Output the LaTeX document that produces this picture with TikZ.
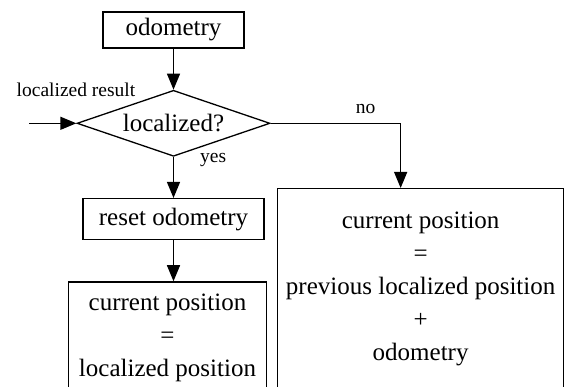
\documentclass[tikz,border=0pt]{standalone}
\usepackage{fontspec}
\setmainfont{Liberation Serif}
\usetikzlibrary{arrows.meta,shapes.geometric,positioning}

\begin{document}
\begin{tikzpicture}[x=1pt,y=1pt,>={Triangle[length=16pt,width=13pt]},line width=1.3pt,
    node distance=41pt,
    block/.style={draw,rectangle,align=center,inner sep=0pt,font=\fontsize{25}{33}\selectfont},
    decision/.style={draw,diamond,aspect=2.9,inner sep=0pt,minimum width=193pt,minimum height=66pt,font=\fontsize{25}{33}\selectfont},
    lbl/.style={font=\fontsize{19.5}{22}\selectfont,inner sep=2pt}]
      \useasboundingbox (0,0) rectangle (565,-387);
      \clip (0,0) rectangle (565,-387);

      %% main branch
      \node[block, minimum width=141pt, minimum height=36pt] (odo) at (173.5,-30) {odometry};
      \node[decision]                                        (loc) [below=of odo] {localized?};
      \node[block, minimum width=181pt, minimum height=41pt] (rst) [below=of loc] {reset odometry};
      \node[block, minimum width=198pt, inner ysep=12.5pt]   (cur1) [below=of rst, xshift=-6pt]
            {current position\\=\\localized position};

      %% no branch
      \node[block, minimum width=286pt, inner ysep=23pt, anchor=north west] (cur2) at (277,-188)
            {current position\\=\\previous localized position\\+\\odometry};

      \coordinate[left=47pt of loc.west]   (in);
      \coordinate[right=130pt of loc.east] (nobend);
      \node[lbl, anchor=base] (inlbl) at (76,-96.5) {localized result};

      \path[->]  (odo) edge (loc);
      \path[->]  (in)  edge (loc.west);
      \path[->]  (loc) edge node[lbl, pos=0.08, right=24pt] {yes} (rst);
      \path[->]  (rst) edge (rst.south |- cur1.north);
      \draw[->]  (loc.east) -- node[lbl, pos=0.73, above=6.5pt] {no} (nobend) -- (nobend |- cur2.north);
\end{tikzpicture}
\end{document}
